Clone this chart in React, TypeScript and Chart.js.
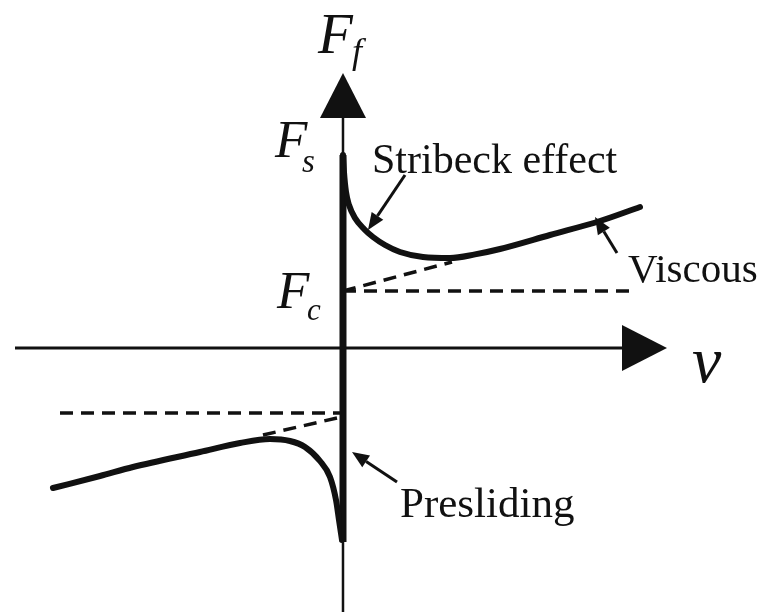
import React, { useEffect, useRef } from "react";
import { Chart, registerables } from "chart.js";

Chart.register(...registerables);

// Scale ranges (velocity v, friction force F)
const V_RANGE = [-11.433, 14];
const F_RANGE = [-8.8, 11.6];

// Forward sliding branch: Stribeck effect + viscous
const forwardV = [0, 0.033, 0.1, 0.2, 0.4, 0.7, 1.0, 1.4, 1.9, 2.667, 3.567, 4.4, 5.233, 6.9, 8.567, 9.9];
const forwardF = [6.433, 5.867, 5.2, 4.767, 4.333, 3.967, 3.7, 3.433, 3.2, 3.033, 3.0, 3.12, 3.3, 3.767, 4.233, 4.7];

// Reverse sliding branch
const reverseV = [-9.667, -8.1, -7.0, -4.767, -3.433, -2.433, -1.767, -1.267, -0.767, -0.433, -0.233, -0.133, -0.033];
const reverseF = [-4.667, -4.267, -3.967, -3.467, -3.167, -3.033, -3.1, -3.3, -3.767, -4.3, -5.067, -5.733, -6.4];

// Presliding (sticking) segment at v = 0
const stickV = [0, 0];
const stickF = [6.433, -6.467];

// Coulomb level and viscous asymptotes (dashed)
const coulombPosV = [0, 9.667];
const coulombPosF = [1.9, 1.9];
const viscousPosV = [0, 3.633];
const viscousPosF = [1.9, 2.867];
const coulombNegV = [-9.433, -0.1];
const coulombNegF = [-2.167, -2.167];
const viscousNegV = [-0.2, -2.667];
const viscousNegF = [-2.333, -2.9];

// Axes
const vAxisV = [-10.933, 9.3];
const vAxisF = [0, 0];
const fAxisV = [0, 0];
const fAxisF = [-8.8, 7.667];

// Axis arrowheads: [tipV, tipF, baseV, baseF]
const arrowHeads = [
  [0, 9.167, 0, 7.667],
  [10.8, 0, 9.3, 0],
];

// Annotation pointers: [fromV, fromF, toV, toF]
const pointers = [
  [2.067, 5.767, 0.833, 3.933],
  [9.133, 3.167, 8.4, 4.367],
  [1.8, -4.467, 0.3, -3.467],
];

// Text labels
const labels = [
  { text: "Stribeck effect", v: 0.967, f: 5.833, font: "42px 'Liberation Serif'" },
  { text: "Viscous", v: 9.5, f: 2.2, font: "41px 'Liberation Serif'" },
  { text: "Presliding", v: 1.9, f: -5.633, font: "43px 'Liberation Serif'" },
  { text: "F", v: -0.833, f: 9.833, font: "italic 57px 'Liberation Serif'" },
  { text: "f", v: 0.3, f: 9.5, font: "italic 36px 'Liberation Serif'" },
  { text: "F", v: -2.267, f: 6.367, font: "italic 53px 'Liberation Serif'" },
  { text: "s", v: -1.367, f: 5.867, font: "italic 33px 'Liberation Serif'" },
  { text: "F", v: -2.2, f: 1.333, font: "italic 53px 'Liberation Serif'" },
  { text: "c", v: -1.2, f: 0.933, font: "italic 31px 'Liberation Serif'" },
  { text: "v", v: 11.633, f: -1.133, font: "italic 66px 'Liberation Serif'" },
];

const INK = "#111";

const pts = (xs: number[], ys: number[]) => xs.map((x, i) => ({ x, y: ys[i] }));

const decorPlugin = {
  id: "decor",
  afterDatasetsDraw(chart: any) {
    const { ctx, scales } = chart;
    const sx = scales.x;
    const sy = scales.y;
    const px = (v: number) => sx.getPixelForValue(v);
    const py = (f: number) => sy.getPixelForValue(f);
    ctx.save();
    ctx.fillStyle = INK;
    ctx.strokeStyle = INK;

    // axis arrowheads
    arrowHeads.forEach(([tv, tf, bv, bf]) => {
      const tx = px(tv), ty = py(tf), bx = px(bv), by = py(bf);
      const dx = tx - bx, dy = ty - by;
      const len = Math.hypot(dx, dy);
      const nx = -dy / len, ny = dx / len;
      const half = 23;
      ctx.beginPath();
      ctx.moveTo(tx, ty);
      ctx.lineTo(bx + nx * half, by + ny * half);
      ctx.lineTo(bx - nx * half, by - ny * half);
      ctx.closePath();
      ctx.fill();
    });

    // annotation pointers
    pointers.forEach(([fv, ff, tv, tf]) => {
      const x0 = px(fv), y0 = py(ff), x1 = px(tv), y1 = py(tf);
      const dx = x1 - x0, dy = y1 - y0;
      const len = Math.hypot(dx, dy);
      const ux = dx / len, uy = dy / len;
      const headLen = 17, headHalf = 7;
      const bx = x1 - ux * headLen, by = y1 - uy * headLen;
      ctx.lineWidth = 3;
      ctx.beginPath();
      ctx.moveTo(x0, y0);
      ctx.lineTo(bx, by);
      ctx.stroke();
      ctx.beginPath();
      ctx.moveTo(x1, y1);
      ctx.lineTo(bx - uy * headHalf, by + ux * headHalf);
      ctx.lineTo(bx + uy * headHalf, by - ux * headHalf);
      ctx.closePath();
      ctx.fill();
    });

    // labels
    ctx.textAlign = "left";
    ctx.textBaseline = "alphabetic";
    labels.forEach((l) => {
      ctx.font = l.font;
      ctx.fillText(l.text, px(l.v), py(l.f));
    });
    ctx.restore();
  },
};

export default function App() {
  const ref = useRef<HTMLCanvasElement | null>(null);

  useEffect(() => {
    if (!ref.current) return;
    const solid = (data: any, width: number, tension = 0) => ({
      data,
      borderColor: INK,
      borderWidth: width,
      pointRadius: 0,
      showLine: true,
      fill: false,
      tension,
      borderCapStyle: "butt",
      clip: false,
    });
    const dashed = (data: any) => ({
      data,
      borderColor: INK,
      borderWidth: 3.5,
      borderDash: [13, 8],
      pointRadius: 0,
      showLine: true,
      fill: false,
      clip: false,
    });
    const chart = new Chart(ref.current, {
      type: "scatter",
      data: {
        datasets: [
          solid(pts(vAxisV, vAxisF), 3),
          solid(pts(fAxisV, fAxisF), 2.5),
          dashed(pts(coulombPosV, coulombPosF)),
          dashed(pts(viscousPosV, viscousPosF)),
          dashed(pts(coulombNegV, coulombNegF)),
          dashed(pts(viscousNegV, viscousNegF)),
          { ...solid(pts(forwardV, forwardF), 6), cubicInterpolationMode: "monotone", borderCapStyle: "round" },
          { ...solid(pts(reverseV, reverseF), 6), cubicInterpolationMode: "monotone", borderCapStyle: "round" },
          solid(pts(stickV, stickF), 7),
        ] as any,
      },
      options: {
        animation: false,
        responsive: false,
        maintainAspectRatio: false,
        layout: { padding: 0 },
        events: [],
        plugins: { legend: { display: false }, tooltip: { enabled: false }, title: { display: false } },
        scales: {
          x: { type: "linear", min: V_RANGE[0], max: V_RANGE[1], display: false },
          y: { type: "linear", min: F_RANGE[0], max: F_RANGE[1], display: false },
        },
      },
      plugins: [decorPlugin],
    });
    return () => chart.destroy();
  }, []);

  return (
    <div style={{ position: "fixed", left: 0, top: 0, width: 763, height: 612, background: "#fff" }}>
      <canvas ref={ref} width={763} height={612} style={{ display: "block" }} />
    </div>
  );
}
